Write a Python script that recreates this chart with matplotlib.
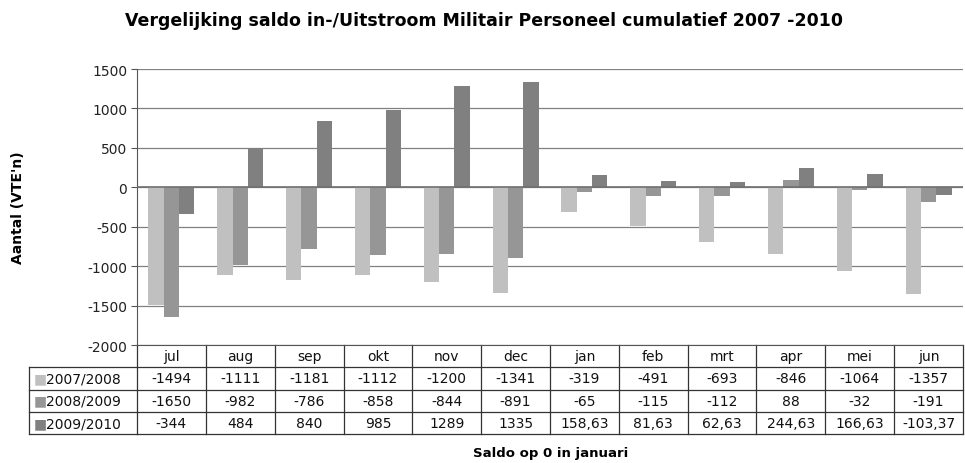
import matplotlib.pyplot as plt
import numpy as np
from matplotlib.transforms import blended_transform_factory

months = ["jul", "aug", "sep", "okt", "nov", "dec", "jan", "feb", "mrt", "apr", "mei", "jun"]
series = ["2007/2008", "2008/2009", "2009/2010"]
v0708 = [-1494, -1111, -1181, -1112, -1200, -1341, -319, -491, -693, -846, -1064, -1357]
v0809 = [-1650, -982, -786, -858, -844, -891, -65, -115, -112, 88, -32, -191]
v0910 = [-344, 484, 840, 985, 1289, 1335, 158.63, 81.63, 62.63, 244.63, 166.63, -103.37]
labels0910 = ["-344", "484", "840", "985", "1289", "1335", "158,63", "81,63", "62,63",
              "244,63", "166,63", "-103,37"]
colors = ["#c0c0c0", "#969696", "#808080"]

plt.rcParams['font.family'] = ['DejaVu Sans']
plt.rcParams['axes.unicode_minus'] = False
fig = plt.figure(figsize=(9.65, 4.64), dpi=100)
ax = fig.add_axes([137 / 965, 1 - 346 / 464, 826 / 965, 276 / 464])

x = np.arange(len(months))
w = 0.222
data = [v0708, v0809, v0910]
for i, vals in enumerate(data):
    ax.bar(x + (i - 1) * w, vals, w, color=colors[i], zorder=3)

ax.set_xlim(-0.5, len(months) - 0.5)
ax.set_ylim(-2000, 1500)
ax.set_yticks(range(-2000, 1501, 500))
ax.yaxis.grid(True, color="#808080", linewidth=0.9, zorder=0)
ax.axhline(0, color="#707070", lw=1.2, zorder=4)
ax.set_xticks([])
for s in ["top", "right"]:
    ax.spines[s].set_visible(False)
ax.spines["left"].set_color("#555555")
ax.spines["bottom"].set_color("#555555")
ax.tick_params(axis="y", labelsize=10, length=4, color="#555555", pad=3, labelcolor="#222222")

ax.set_ylabel("Aantal (VTE'n)", fontsize=10, fontweight="bold")
ax.yaxis.set_label_coords(-0.1356, 0.5)
fig.text(0.502, 0.955, "Vergelijking saldo in-/Uitstroom Militair Personeel cumulatief 2007 -2010",
         ha="center", va="center", fontsize=12.5, fontweight="bold")
fig.text(0.571, 0.022, "Saldo op 0 in januari", ha="center", va="center",
         fontsize=9.5, fontweight="bold")

# data table under the plot
tr = blended_transform_factory(ax.transData, ax.transAxes)
rh = 22.3 / 276
nrows = 4
lc = "#333333"
label_left = (29 - 137) / 826
texts = [months,
         [str(v) for v in v0708],
         [str(v) for v in v0809],
         labels0910]
for r in range(nrows):
    ytop = -r * rh
    ybot = -(r + 1) * rh
    ax.plot([-0.5, len(months) - 0.5], [ybot, ybot], transform=tr, color=lc,
            lw=0.9, clip_on=False)
    for c, t in enumerate(texts[r]):
        ax.text(c, (ytop + ybot) / 2, t, transform=tr, ha="center", va="center",
                fontsize=10, color="#111111")
for c in range(len(months) + 1):
    ax.plot([c - 0.5, c - 0.5], [0, -nrows * rh], transform=tr, color=lc,
            lw=0.9, clip_on=False)
# label cells
for r in range(nrows):
    ybot = -(r + 1) * rh
    ax.plot([label_left, 0], [ybot, ybot], transform=ax.transAxes, color=lc,
            lw=0.9, clip_on=False)
ax.plot([label_left, label_left], [-rh, -nrows * rh], transform=ax.transAxes, color=lc,
        lw=0.9, clip_on=False)
for i, name in enumerate(series):
    yc = -(i + 1.5) * rh
    ax.text(label_left + 0.006, yc, "\u25a0", transform=ax.transAxes, ha="left",
            va="center", fontsize=10, color=colors[i])
    ax.text(label_left + 0.021, yc, name, transform=ax.transAxes, ha="left",
            va="center", fontsize=10, color="#111111")

fig.savefig("out.png", dpi=100)
